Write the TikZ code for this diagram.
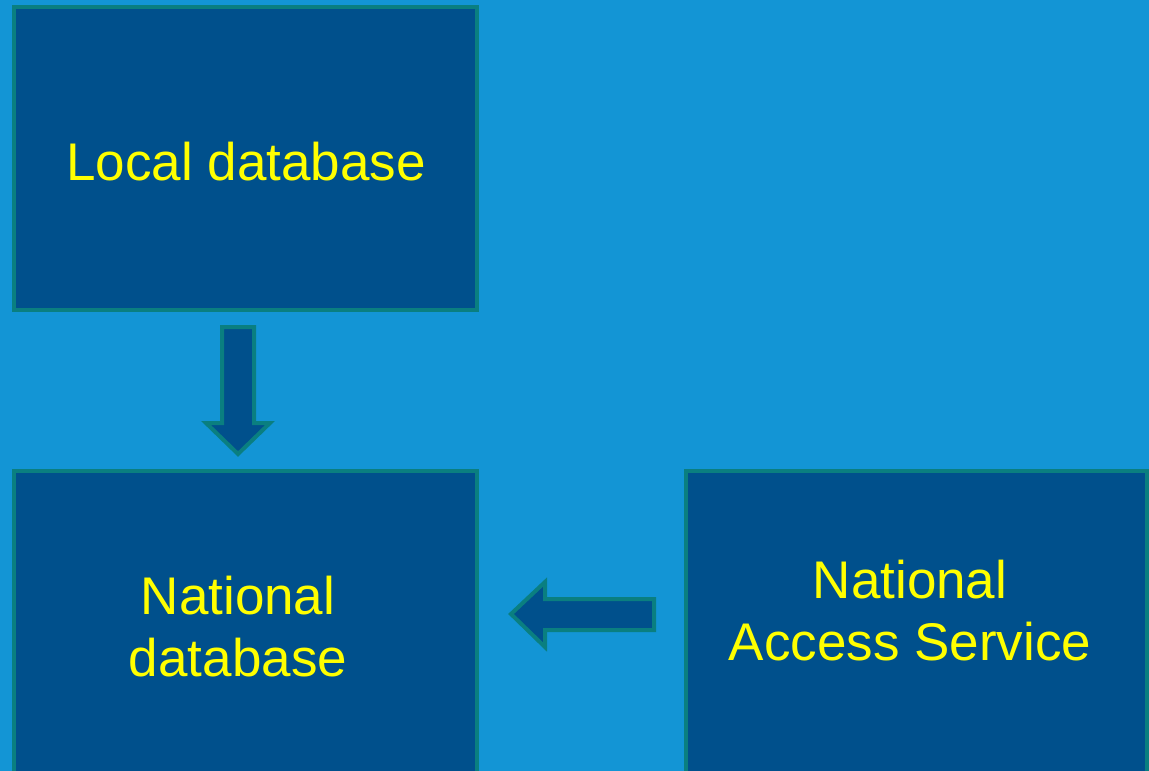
\documentclass[tikz,border=0pt]{standalone}
\usepackage{fontspec}
\setmainfont{Liberation Sans}
\definecolor{bg}{RGB}{19,149,213}
\definecolor{boxfill}{RGB}{0,80,140}
\definecolor{edge}{RGB}{10,127,128}
\definecolor{txt}{RGB}{255,255,0}
\begin{document}
\begin{tikzpicture}[x=1pt,y=-1pt,
  boxstyle/.style={fill=boxfill,draw=edge,line width=4pt},
  arrowshape/.style={fill=boxfill,draw=edge,line width=4pt,line join=miter},
  label/.style={text=txt,font=\fontsize{53}{62}\selectfont,align=center,inner sep=0pt}]
\fill[bg] (0,0) rectangle (1149,771);
\useasboundingbox (0,0) rectangle (1149,771);
% boxes
\draw[boxstyle] (14,7) rectangle (477,310);
\draw[boxstyle] (14,471) rectangle (477,790);
\draw[boxstyle] (686,471) rectangle (1147,790);
\node[label] (local) at (246,162) {Local database};
\node[label] (natdb) at (238,627) {National\\database};
\node[label] (nas) at (910,611) {National\\Access Service};
% down arrow
\draw[arrowshape] (222,327) -- (254,327) -- (254,423) -- (270,423) -- (238,454) -- (206,423) -- (222,423) -- cycle;
% left arrow
\draw[arrowshape] (654,599) -- (654,630) -- (545,630) -- (545,647) -- (511,614) -- (545,582) -- (545,599) -- cycle;
\end{tikzpicture}
\end{document}
